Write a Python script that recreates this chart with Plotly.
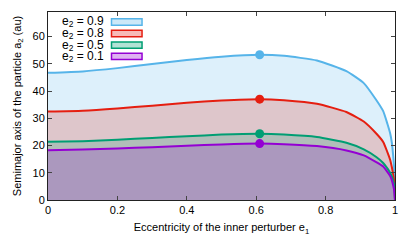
import plotly.graph_objects as go

e1 = [0, 0.1, 0.2, 0.3, 0.4, 0.5, 0.61, 0.68, 0.775, 0.86, 0.91, 0.946, 0.966, 0.978, 0.986, 0.991, 0.995, 0.998, 1.0]
a_09 = [46.7, 47.2, 48.4, 49.9, 51.4, 52.6, 53.3, 52.9, 51.2, 47.3, 42.9, 36.7, 32.6, 28.0, 24.5, 21.0, 15.9, 10.5, 0.0]
a_08 = [32.5, 32.8, 33.6, 34.6, 35.7, 36.5, 37.0, 36.6, 35.3, 32.3, 28.8, 24.4, 21.3, 17.6, 14.8, 12.0, 9.2, 6.5, 0.0]
a_05 = [21.4, 21.6, 22.1, 22.8, 23.4, 24.0, 24.3, 24.0, 23.1, 21.0, 18.6, 15.8, 13.6, 11.6, 10.0, 8.7, 7.0, 5.0, 0.0]
a_01 = [18.3, 18.5, 18.9, 19.4, 19.9, 20.4, 20.7, 20.5, 19.8, 18.2, 16.4, 13.9, 12.3, 10.3, 8.8, 7.2, 5.2, 3.2, 0.0]
peak_e = 0.61
peak_a = [53.3, 37.0, 24.3, 20.7]
labels = ["0.9", "0.8", "0.5", "0.1"]
colors = [(86, 180, 233), (229, 30, 16), (0, 158, 115), (148, 0, 211)]
series = [a_09, a_08, a_05, a_01]

FONT = "Liberation Sans, Arial, sans-serif"
fig = go.Figure()
for s, c in zip(series, colors):
    fig.add_trace(go.Scatter(
        x=e1, y=s, mode="lines", fill="tozeroy",
        fillcolor="rgba(%d,%d,%d,0.2)" % c,
        line=dict(color="rgb(%d,%d,%d)" % c, width=2, shape="spline", smoothing=0.5),
        showlegend=False, hoverinfo="skip"))
for p, c in zip(peak_a, colors):
    fig.add_trace(go.Scatter(
        x=[peak_e], y=[p], mode="markers",
        marker=dict(color="rgb(%d,%d,%d)" % c, size=9),
        showlegend=False))

# custom legend
rows_y = [0.947, 0.886, 0.824, 0.764]
for lab, c, yy in zip(labels, colors, rows_y):
    fig.add_annotation(xref="paper", yref="paper", x=0.168, y=yy, xanchor="right", yanchor="middle",
                       text="e<sub>2</sub> = " + lab, showarrow=False, height=11,
                       font=dict(family=FONT, size=12, color="black"))
    fig.add_shape(type="rect", xref="paper", yref="paper", x0=0.183, x1=0.271, y0=yy - 0.017, y1=yy + 0.017,
                  fillcolor="rgba(%d,%d,%d,0.3)" % c, line=dict(color="rgb(%d,%d,%d)" % c, width=1.5))

axis_common = dict(showline=True, linecolor="#222", linewidth=1, mirror="ticks", automargin=False,
                   ticks="inside", ticklen=4, tickcolor="#444", showgrid=False, zeroline=False,
                   tickfont=dict(family=FONT, size=11, color="black"))
fig.update_xaxes(range=[0, 1], tickvals=[0, 0.2, 0.4, 0.6, 0.8, 1], ticktext=["0", "0.2", "0.4", "0.6", "0.8", "1"],
                 title=dict(text="Eccentricity of the inner perturber e<sub>1</sub>", standoff=8,
                            font=dict(family=FONT, size=11, color="black")), **axis_common)
fig.update_yaxes(range=[0, 69], tickvals=[0, 10, 20, 30, 40, 50, 60],
                 title=dict(text="Semimajor axis of the particle a<sub>2</sub> (au)", standoff=8,
                            font=dict(family=FONT, size=11, color="black")), **axis_common)
fig.update_layout(width=415, height=249, margin=dict(l=48, r=20, t=12, b=49),
                  plot_bgcolor="white", paper_bgcolor="white")
fig.write_html("out.html", config={"displayModeBar": False},
               post_script="document.body.style.margin='0';")
